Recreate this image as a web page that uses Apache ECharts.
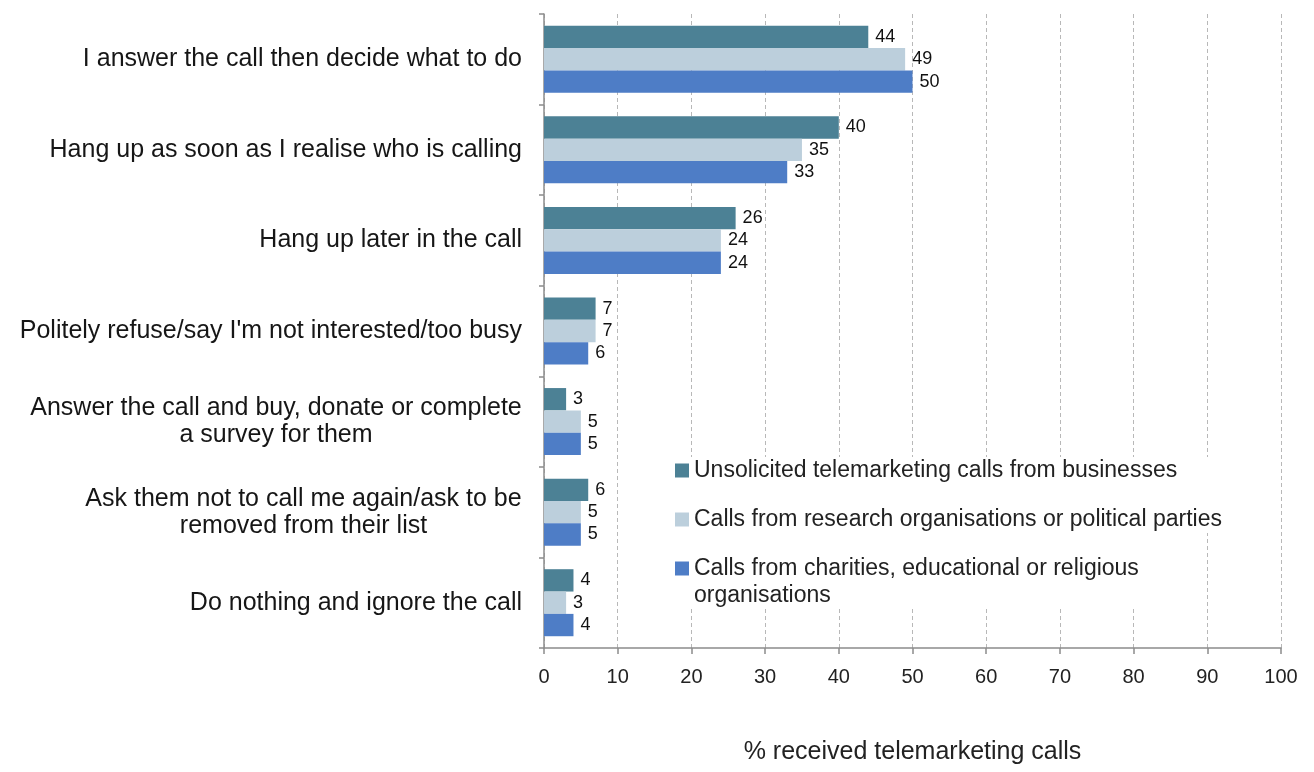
<!DOCTYPE html>
<html>
<head>
<meta charset="utf-8">
<script src="https://cdn.jsdelivr.net/npm/echarts@6/dist/echarts.min.js"></script>
<style>
  html, body { margin: 0; padding: 0; background: #ffffff; }
  #chart { width: 1314px; height: 772px; }
</style>
</head>
<body>
<div id="chart"></div>
<script>
// Responses to telemarketing calls, by type of caller (% of respondents)
const categories = [
  "I answer the call then decide what to do",
  "Hang up as soon as I realise who is calling",
  "Hang up later in the call",
  "Politely refuse/say I'm not interested/too busy",
  "Answer the call and buy, donate or complete\na survey for them",
  "Ask them not to call me again/ask to be\nremoved from their list",
  "Do nothing and ignore the call"
];
const seriesNames = [
  "Unsolicited telemarketing calls from businesses",
  "Calls from research organisations or political parties",
  "Calls from charities, educational or religious\norganisations"
];
const businesses = [44, 40, 26, 7, 3, 6, 4];
const research   = [49, 35, 24, 7, 5, 5, 3];
const charities  = [50, 33, 24, 6, 5, 5, 4];
const xTicks = [0, 10, 20, 30, 40, 50, 60, 70, 80, 90, 100];
const xTitle = "% received telemarketing calls";

const FONT = '"Liberation Sans", Arial, sans-serif';
const CAT_SIZE = 25;
const colors = ['#4c8195', '#bccfdc', '#4e7dc6'];

// Multi-line category labels: centre each line inside the widest line's width
const ctx = document.createElement('canvas').getContext('2d');
ctx.font = CAT_SIZE + 'px ' + FONT;
const rich = {};
categories.forEach((c, i) => {
  if (c.indexOf('\n') >= 0) {
    const w = Math.max(...c.split('\n').map(l => ctx.measureText(l).width));
    rich['c' + i] = { width: Math.ceil(w), align: 'center', fontSize: CAT_SIZE,
                      fontFamily: FONT, color: '#161616', lineHeight: 27 };
  }
});

const chart = echarts.init(document.getElementById('chart'), null, { renderer: 'canvas' });

const valueLabel = {
  show: true, position: 'right', distance: 7,
  fontFamily: FONT, fontSize: 18, color: '#111'
};
const seriesData = [businesses, research, charities];
const legendText = { fontFamily: FONT, fontSize: 23, color: '#222', lineHeight: 27 };

chart.setOption({
  animation: false,
  backgroundColor: '#ffffff',
  grid: { left: 544, right: 33, top: 14, bottom: 124, containLabel: false },
  legend: [
    {
      data: [seriesNames[0], seriesNames[1]],
      orient: 'vertical', left: 675, top: 457,
      itemWidth: 14, itemHeight: 14, itemGap: 22,
      icon: 'rect', padding: 0, backgroundColor: '#ffffff',
      textStyle: legendText
    },
    {
      // leading blank line keeps the marker level with the first text line
      data: [seriesNames[2]],
      formatter: name => '\n' + name,
      orient: 'vertical', left: 675, top: 528,
      itemWidth: 14, itemHeight: 14,
      icon: 'rect', padding: 0, backgroundColor: '#ffffff',
      textStyle: legendText
    }
  ],
  xAxis: {
    type: 'value', min: 0, max: 100, interval: 10,
    name: xTitle, nameLocation: 'middle', nameGap: 92,
    nameTextStyle: { fontFamily: FONT, fontSize: 25, color: '#222' },
    axisLine: { show: true, lineStyle: { color: '#8c8c8c', width: 1.5 } },
    axisTick: { show: true, length: 6, lineStyle: { color: '#8c8c8c', width: 1.5 } },
    axisLabel: {
      fontFamily: FONT, fontSize: 20, color: '#222', margin: 19,
      formatter: v => xTicks.indexOf(v) >= 0 ? String(v) : ''
    },
    splitLine: { show: true, lineStyle: { color: '#b8b8b8', type: [4, 3], width: 1 } }
  },
  yAxis: {
    type: 'category', inverse: true, data: categories,
    axisLine: { show: true, lineStyle: { color: '#8c8c8c', width: 1.5 } },
    axisTick: { show: true, length: 5, alignWithLabel: false, lineStyle: { color: '#8c8c8c', width: 1.5 } },
    axisLabel: {
      fontFamily: FONT, fontSize: CAT_SIZE, color: '#161616', margin: 22, lineHeight: 27,
      rich: rich,
      formatter: (value, idx) => value.indexOf('\n') >= 0
        ? value.split('\n').map(l => '{c' + idx + '|' + l + '}').join('\n')
        : value
    },
    splitLine: { show: false }
  },
  series: seriesData.map((d, i) => ({
    name: seriesNames[i],
    type: 'bar',
    data: d,
    barGap: '0%',
    barCategoryGap: '26%',
    itemStyle: { color: colors[i] },
    label: valueLabel
  }))
});
</script>
</body>
</html>
